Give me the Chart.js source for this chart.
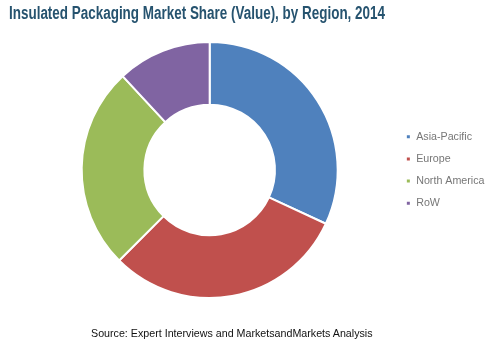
<!DOCTYPE html>
<html>
<head>
<meta charset="utf-8">
<script src="https://cdn.jsdelivr.net/npm/chart.js@4"></script>
<style>
  html, body { margin: 0; padding: 0; background: #fff; }
  #wrap { position: relative; width: 491px; height: 348px; overflow: hidden; }
  #title {
    position: absolute; left: 9px; top: 3px;
    font-family: "Liberation Sans", Arial, sans-serif;
    font-weight: bold; font-size: 18px; color: #26536f; white-space: nowrap;
    transform-origin: 0 0;
  }
  #source {
    position: absolute; left: 91px; top: 327px;
    font-family: "Liberation Sans", Arial, sans-serif;
    font-size: 10.7px; color: #111; white-space: nowrap;
  }
  canvas { position: absolute; left: 0; top: 0; }
</style>
</head>
<body>
<div id="wrap">
  <canvas id="shareChart" width="500" height="348"></canvas>
  <div id="title">Insulated Packaging Market Share (Value), by Region, 2014</div>
  <div id="source">Source: Expert Interviews and MarketsandMarkets Analysis</div>
</div>
<script>
const regions = ["Asia-Pacific", "Europe", "North America", "RoW"];
const shares = [31.9, 30.6, 25.6, 11.9];
const sliceColors = ["#4f81bd", "#c0504d", "#9bbb59", "#8064a2"];

let shareChart;

// title in the picture is a condensed face, squeeze ours to the same width
function fitTitle() {
  const el = document.getElementById("title");
  const w = el.getBoundingClientRect().width;
  if (w > 0) el.style.transform = `scaleX(${376 / w})`;
}

function initShareChart() {
  const ctx = document.getElementById("shareChart");
  shareChart = new Chart(ctx, {
    type: "doughnut",
    data: {
      labels: regions,
      datasets: [{
        data: shares,
        backgroundColor: sliceColors,
        borderColor: "#fff",
        borderWidth: 2
      }]
    },
    options: {
      responsive: false,
      animation: false,
      cutout: "51%",
      layout: { padding: { top: 41, bottom: 49, left: 25, right: 5.5 } },
      plugins: {
        tooltip: { enabled: false },
        legend: {
          position: "right",
          labels: {
            boxWidth: 5,
            boxHeight: 5,
            padding: 11.5,
            color: "#777",
            font: { family: "'Liberation Sans', Arial, sans-serif", size: 10.7 }
          }
        }
      }
    }
  });
}

document.addEventListener("DOMContentLoaded", () => {
  fitTitle();
  initShareChart();
});
</script>
</body>
</html>
